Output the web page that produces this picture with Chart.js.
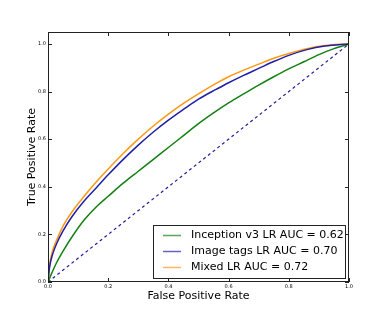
<!DOCTYPE html>
<html lang="en">
<head>
<meta charset="UTF-8">
<title>ROC curves</title>
<style>
  html, body { margin: 0; padding: 0; background: #fff; }
  #wrap { width: 388px; height: 323px; }
</style>
</head>
<body>
<div id="wrap"><canvas id="roc" width="388" height="323"></canvas></div>
<script src="https://cdn.jsdelivr.net/npm/chart.js"></script>
<script>
// series names shown in the legend
const seriesNames = ["Inception v3 LR AUC = 0.62", "Image tags LR AUC = 0.70", "Mixed LR AUC = 0.72"];

// [false positive rate, true positive rate]
const inceptionRoc = [[0,0],[0.01,0.03],[0.03,0.085],[0.05,0.13],[0.08,0.19],[0.12,0.26],[0.16,0.315],[0.2,0.36],
  [0.25,0.415],[0.3,0.465],[0.35,0.515],[0.4,0.565],[0.45,0.615],[0.5,0.665],[0.55,0.71],[0.6,0.752],[0.65,0.79],
  [0.7,0.827],[0.75,0.862],[0.8,0.895],[0.85,0.925],[0.9,0.955],[0.95,0.98],[1,1]];
const tagsRoc = [[0,0],[0.005,0.06],[0.015,0.115],[0.03,0.165],[0.05,0.215],[0.08,0.275],[0.12,0.34],[0.16,0.395],
  [0.2,0.45],[0.25,0.515],[0.3,0.575],[0.35,0.63],[0.4,0.68],[0.45,0.725],[0.5,0.768],[0.56,0.81],[0.6,0.837],
  [0.65,0.868],[0.7,0.897],[0.75,0.926],[0.8,0.952],[0.86,0.976],[0.92,0.991],[1,1]];
const mixedRoc = [[0,0],[0.005,0.07],[0.015,0.13],[0.03,0.18],[0.05,0.235],[0.08,0.295],[0.12,0.36],[0.16,0.42],
  [0.2,0.475],[0.25,0.54],[0.3,0.60],[0.35,0.655],[0.4,0.705],[0.45,0.75],[0.5,0.79],[0.56,0.835],[0.6,0.862],
  [0.65,0.89],[0.7,0.915],[0.75,0.94],[0.8,0.96],[0.86,0.98],[0.92,0.993],[1,1]];
const chanceLine = [[0,0],[1,1]];

const xTicks = [0, 0.2, 0.4, 0.6, 0.8, 1.0];
const yTicks = [0, 0.2, 0.4, 0.6, 0.8, 1.0];

const colors = ["#138013", "#1f1fa8", "#ff9812"];

const toXY = arr => arr.map(p => ({x: p[0], y: p[1]}));

// box around the plot + ticks pointing inwards on all four sides
const frameTicks = {
  id: 'frameTicks',
  afterDraw(chart) {
    const {ctx, chartArea: a, scales: {x, y}} = chart;
    ctx.save();
    ctx.strokeStyle = '#222';
    ctx.lineWidth = 1;
    ctx.strokeRect(a.left + 0.5, a.top + 0.5, a.right - a.left - 1, a.bottom - a.top - 1);
    ctx.beginPath();
    xTicks.forEach(t => {
      const px = Math.round(x.getPixelForValue(t)) + 0.5;
      ctx.moveTo(px, a.bottom); ctx.lineTo(px, a.bottom - 4);
      ctx.moveTo(px, a.top); ctx.lineTo(px, a.top + 4);
    });
    yTicks.forEach(t => {
      const py = Math.round(y.getPixelForValue(t)) + 0.5;
      ctx.moveTo(a.left, py); ctx.lineTo(a.left + 4, py);
      ctx.moveTo(a.right, py); ctx.lineTo(a.right - 4, py);
    });
    ctx.stroke();
    ctx.restore();
  }
};

// legend box in the lower right corner of the plot
const boxLegend = {
  id: 'boxLegend',
  afterDraw(chart) {
    const ctx = chart.ctx;
    const left = 153, top = 225, w = 192, h = 53;
    ctx.save();
    ctx.fillStyle = '#fff';
    ctx.fillRect(left, top, w, h);
    ctx.strokeStyle = '#222';
    ctx.lineWidth = 1;
    ctx.strokeRect(left + 0.5, top + 0.5, w, h);
    ctx.font = '11px "DejaVu Sans"';
    ctx.textBaseline = 'middle';
    seriesNames.forEach((name, i) => {
      const yy = top + 10.5 + i * 16;
      ctx.strokeStyle = colors[i];
      ctx.globalAlpha = 0.7;
      ctx.lineWidth = 1.5;
      ctx.beginPath();
      ctx.moveTo(163, yy); ctx.lineTo(181, yy);
      ctx.stroke();
      ctx.globalAlpha = 1;
      ctx.fillStyle = '#000';
      ctx.fillText(name, 191, yy);
    });
    ctx.restore();
  }
};

new Chart(document.getElementById('roc'), {
  type: 'line',
  data: {
    datasets: [
      {label: seriesNames[0], data: toXY(inceptionRoc), borderColor: colors[0], borderWidth: 1.5, cubicInterpolationMode: 'monotone'},
      {label: seriesNames[1], data: toXY(tagsRoc), borderColor: colors[1], borderWidth: 1.5, cubicInterpolationMode: 'monotone'},
      {label: seriesNames[2], data: toXY(mixedRoc), borderColor: colors[2], borderWidth: 1.5, cubicInterpolationMode: 'monotone'},
      {label: 'chance', data: toXY(chanceLine), borderColor: '#1f1f9a', borderWidth: 1.2, borderDash: [3, 3]}
    ]
  },
  options: {
    responsive: false,
    animation: false,
    devicePixelRatio: 1,
    elements: {point: {radius: 0}},
    layout: {padding: {left: 0, top: 32, right: 39, bottom: 0}},
    plugins: {legend: {display: false}, tooltip: {enabled: false}},
    scales: {
      x: {
        type: 'linear', min: 0, max: 1,
        grid: {display: false, drawTicks: false},
        border: {display: false},
        afterBuildTicks: s => { s.ticks = xTicks.map(v => ({value: v})); },
        afterFit: s => { s.height = 41; },
        ticks: {font: {family: 'DejaVu Sans', size: 5}, color: '#000', padding: 2, maxRotation: 0, autoSkip: false,
          callback: v => v.toFixed(1)},
        title: {display: true, text: 'False Positive Rate', font: {family: 'DejaVu Sans', size: 11}, color: '#000',
          padding: {top: 0, bottom: 20}}
      },
      y: {
        type: 'linear', min: 0, max: 1.05,
        grid: {display: false, drawTicks: false},
        border: {display: false},
        afterBuildTicks: s => { s.ticks = yTicks.map(v => ({value: v})); },
        afterFit: s => { s.width = 48; },
        ticks: {font: {family: 'DejaVu Sans', size: 5}, color: '#000', padding: 2, autoSkip: false,
          callback: v => v.toFixed(1)},
        title: {display: true, text: 'True Positive Rate', font: {family: 'DejaVu Sans', size: 11}, color: '#000',
          padding: {top: 26, bottom: 0}}
      }
    }
  },
  plugins: [frameTicks, boxLegend]
});
</script>
</body>
</html>
